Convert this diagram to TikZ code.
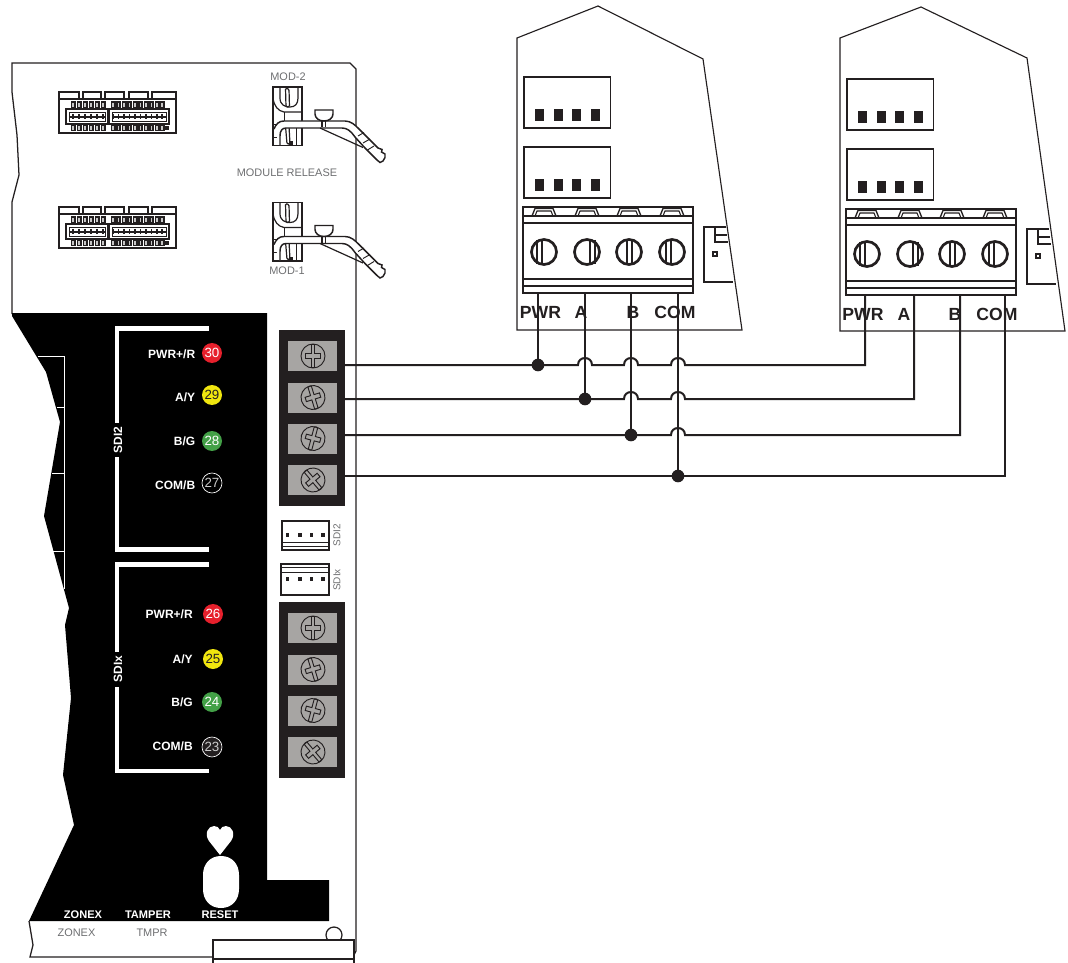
\documentclass[tikz,border=0pt]{standalone}
\usepackage{fontspec}
\setmainfont{Liberation Sans}
\definecolor{ink}{HTML}{231F20}
\definecolor{labgray}{HTML}{6D6E70}
\definecolor{termgray}{HTML}{A7A5A3}
\definecolor{ledred}{HTML}{E6202C}
\definecolor{ledyellow}{HTML}{F0E60F}
\definecolor{ledgreen}{HTML}{43A047}
\newcommand{\fsize}[1]{\fontsize{#1}{#1}\selectfont}
\tikzset{
  thinline/.style={draw=ink,line width=0.7pt},
  boardline/.style={draw=ink,line width=0.95pt},
  wire/.style={draw=ink,line width=1.5pt},
  dotnode/.style={circle,fill=ink,inner sep=0pt,minimum size=9.5pt},
  graylab/.style={text=labgray,font=\fsize{8.2},inner sep=0pt},
  whitelab/.style={text=white,font=\fsize{9}\bfseries,inner sep=0pt,anchor=east},
  botlab/.style={text=white,font=\fsize{8.3}\bfseries,inner sep=0pt},
  pinlab/.style={text=ink,font=\fsize{13.2}\bfseries,inner sep=0pt},
  led/.style={circle,minimum size=15pt,inner sep=0pt,font=\fsize{10}},
  bracket/.style={draw=white,line width=3.6pt},
}
\newcommand{\msock}[1]{% socket, y offset #1
 \begin{scope}[shift={(0,#1)}]
  \draw[thinline,line width=.9pt] (59,99) -- (59,92) -- (79,92) -- (79,99) (83,99) -- (83,92) -- (101,92) -- (101,99)
    (105,99) -- (105,92) -- (124,92) -- (124,99) (129,99) -- (129,92) -- (148,92) -- (148,99) (152,99) -- (152,92) -- (176,92) -- (176,99);
  \draw[thinline,line width=1.1pt] (59,99) rectangle (176,133);
  \foreach \px in {73,79,85,91,97,103,113,118.5,124,129.5,135,140.5,146,151.5,157,162}{
    \fill[ink] (\px-2.5,101.5) rectangle (\px+2.5,108.5);
    \fill[white!75!ink] (\px-.6,103) rectangle (\px+.6,107);
    \fill[ink] (\px-2.5,124.5) rectangle (\px+2.5,131);
    \fill[white!75!ink] (\px-.6,126) rectangle (\px+.6,130);}
  \draw[thinline,line width=1.3pt] (66,109) rectangle (108,124) (109,109) rectangle (169,124);
  \draw[thinline,line width=.6pt] (69,112) rectangle (105.5,121) (112,112) rectangle (166.5,121);
  \draw[ink,line width=1pt] (69,117) -- (105,117) (112,117) -- (166,117);
  \foreach \px in {73,79,85,91,97,103,113,118.5,124,129.5,135,140.5,146,151.5,157,162}
    \draw[ink,line width=.9pt] (\px,114) -- (\px,119.5);
  \fill[ink] (164.5,126) rectangle (169,130.5);
 \end{scope}}
\newcommand{\mclip}[1]{% module release, y offset #1
 \begin{scope}[shift={(0,#1)}]
  \draw[thinline,line width=1.1pt] (273,87) rectangle (302,145.5);
  \draw[thinline,line width=.9pt] (280,87) -- (280,98) .. controls (280,105) and (285,107) .. (290,107) .. controls (295,107) and (298,104) .. (298,98) -- (298,87);
  \draw[thinline,line width=.9pt] (273,98) .. controls (274,106) and (278,111) .. (284,112) -- (302,112);
  \draw[thinline] (284,112) -- (284,121);
  \draw[thinline,line width=.9pt,rounded corners=1pt] (285.5,88) -- (289,89) -- (289.5,107) -- (286,107) -- cycle;
  \draw[thinline,line width=.9pt,rounded corners=1pt] (285.5,126) -- (289,126) -- (290,144) -- (287,144) -- cycle;
  \draw[thinline] (296,128) -- (296,145.5) (273,137) -- (280,137) (273,124) -- (277,124);
  \fill[ink] (289,141.5) rectangle (292.5,145);
  \draw[thinline,line width=1.1pt,fill=white] (274,129) .. controls (276,124) and (279,121) .. (284,121) -- (345,121)
      .. controls (351,121) and (355,125) .. (359,129) -- (372,142) -- (378,148) -- (382,149.5) -- (381.5,152) -- (385,154) -- (385,157.5) -- (383,161) -- (380,162.5)
      -- (377,160) -- (365,148) -- (355,137) .. controls (351,131) and (347,128) .. (342,128) -- (286,128)
      .. controls (282,128) and (280,131) .. (280,136) -- (280,145.5);
  \draw[thinline,line width=.9pt] (320,128) -- (363,147.5);
  \draw[thinline] (358,136) -- (364,132.5) (363,143) -- (370,139) (367.5,150) -- (374,146);
  \draw[thinline,fill=white,line width=1.1pt] (315,110) -- (333,110) -- (333,114) .. controls (333,118) and (329,121) .. (324,121) .. controls (319,121) and (315,118) .. (315,114) -- cycle;
  \draw[thinline,line width=1pt] (322,121) -- (322,127.5) (325.5,121) -- (325.5,127.5);
 \end{scope}}
\newcommand{\mscrew}[3]{% x,y,angle
 \begin{scope}[shift={(#1,#2)},rotate=#3]
  \draw[ink,line width=.7pt] (0,0) circle[radius=12];
  \draw[ink,line width=.7pt,fill=termgray] (-1.8,-11.5) -- (1.8,-11.5) -- (1.8,-2.5) -- (7.5,-2.5) -- (7.5,2) -- (1.8,2) -- (1.8,11.5) -- (-1.8,11.5) -- (-1.8,2) -- (-7.5,2) -- (-7.5,-2.5) -- (-1.8,-2.5) -- cycle;
 \end{scope}}
\newcommand{\mblock}[2]{% terminal strip, y offset #2, name prefix #1
 \begin{scope}[shift={(0,#2)}]
  \node[fill=ink,minimum width=49.5pt,minimum height=132pt,inner sep=0pt] (#1) at (312,418) {};
  \foreach \gy/\ga in {356/0,397.5/17,438.5/-15,480/40}{
    \fill[termgray] (288,\gy-15) rectangle (337,\gy+15);
    \mscrew{313}{\gy}{\ga}
  }
 \end{scope}}
\newcommand{\mmodule}[3]{% dx, dy, name
 \begin{scope}[shift={(#1,#2)}]
  \foreach \ry in {77,147}{
    \draw[ink,line width=1.2pt] (524,\ry) rectangle (610.5,\ry+51);
    \foreach \qx in {539,558,576,595} \fill[ink] (\qx-4.5,\ry+32.5) rectangle (\qx+4.5,\ry+44.5);
  }
  \draw[ink,line width=1.1pt] (523,207) rectangle (693,293);
  \draw[ink,line width=.8pt] (523,216) -- (693,216) (523,286) -- (693,286);
  \draw[ink,line width=.8pt] (523,223) -- (693,223);
  \draw[ink,line width=1.2pt] (523,279) -- (693,279);
  \foreach \qx/\lx in {544/-5,587/5,629/0,672/-4}{
    \draw[ink,line width=1pt] (\qx-12,216) -- (\qx-9,208.5) -- (\qx+9,208.5) -- (\qx+12,216);
    \draw[ink,line width=.8pt] (\qx-9,216) -- (\qx-7,211) -- (\qx+7,211) -- (\qx+9,216);
    \draw[ink,line width=2pt] (\qx,252) circle[radius=12.5];
    \draw[ink,line width=.8pt] (\qx+\lx-2,240) -- (\qx+\lx-2,264) (\qx+\lx+3,240) -- (\qx+\lx+3,264);
  }
  \draw[ink,line width=1pt] (726,227) -- (704,227) -- (704,282) -- (733,282);
  \draw[ink,line width=.8pt] (715,227) -- (715,242) -- (727.5,242) (715,235) -- (726.5,235);
  \fill[ink] (712,251.5) rectangle (718,257.5);
  \fill[white] (714,253.5) rectangle (716,255.5);
 \end{scope}}
\newcommand{\hop}{.. controls +(0,-9.3) and +(0,-9.3) .. +(14,0)}
\begin{document}
\begin{tikzpicture}[x=0.75pt,y=-0.75pt]
\clip (0,0) rectangle (1068,963);
% board outline
\draw[boardline] (12,314) -- (12,202) -- (19,175) -- (17,135) -- (12,92) -- (12,63) -- (350,63) -- (356,69) -- (356,951) -- (354,955);
\draw[boardline] (29,921) -- (33,945) -- (30,957) -- (213,957);
% black area
\fill[black] (12,313) -- (267,313) -- (267,880) -- (329,880) -- (329,921) -- (29,921) -- (74,825) -- (63,775) -- (71,698) -- (65,625) -- (69,608) -- (44,516) -- (60,422) -- (46,372) -- (12,316) -- cycle;
\draw[white,line width=.7pt] (38,356.5) -- (64,356.5) -- (64,589) (57,407) -- (64,407) (52,473.5) -- (64,473.5) (45,551) -- (64,551);
% SDI brackets
\draw[bracket] (209,328.5) -- (117,328.5) -- (117,423);
\draw[bracket] (117,457) -- (117,549.5) -- (209,549.5);
\draw[bracket] (209,564.5) -- (117,564.5) -- (117,652);
\draw[bracket] (117,687) -- (117,771) -- (209,771);
\node[rotate=90,text=white,font=\fsize{9}\bfseries,inner sep=0pt] (sdi2lab) at (118,440) {SDI2};
\node[rotate=90,text=white,font=\fsize{9}\bfseries,inner sep=0pt] (sdixlab) at (118,669) {SDIx};
% LED labels
\node[whitelab] (l30) at (195.5,354) {PWR+/R};
\node[whitelab] (l29) at (195.5,397) {A/Y};
\node[whitelab] (l28) at (195.5,441) {B/G};
\node[whitelab] (l27) at (195.5,485) {COM/B};
\node[whitelab] (l26) at (193,614) {PWR+/R};
\node[whitelab] (l25) at (193,659) {A/Y};
\node[whitelab] (l24) at (193,702) {B/G};
\node[whitelab] (l23) at (193,746) {COM/B};
\node[led,fill=ledred,text=white] (n30) at (212,353) {30};
\node[led,fill=ledyellow,text=ink] (n29) at (212,395) {29};
\node[led,fill=ledgreen,text=white] (n28) at (212,441) {28};
\node[led,fill=black,draw=white,line width=.5pt,text=white!80!black] (n27) at (212,483) {27};
\node[led,fill=ledred,text=white] (n26) at (213,614) {26};
\node[led,fill=ledyellow,text=ink] (n25) at (213,659) {25};
\node[led,fill=ledgreen,text=white] (n24) at (212,702) {24};
\node[led,fill=ink,draw=white,line width=.5pt,text=white!80!black] (n23) at (212,747) {23};
% reset
\fill[white] (220,855) -- (209,841) .. controls (204,834) and (208,826) .. (214,826) .. controls (217,826) and (219,827.5) .. (220,830)
  .. controls (221,827.5) and (223,826) .. (226,826) .. controls (232,826) and (236,834) .. (231,841) -- cycle;
\fill[white] (203,875) .. controls (203,864) and (210,856) .. (221,856) .. controls (232,856) and (239,864) .. (239,875) -- (239,889)
  .. controls (239,900) and (232,908) .. (221,908) .. controls (210,908) and (203,900) .. (203,889) -- cycle;
\node[botlab] (lzonex) at (83,914.5) {ZONEX};
\node[botlab] (ltamper) at (148,914.5) {TAMPER};
\node[botlab] (lreset) at (220,914.5) {RESET};
\node[graylab] (gzonex) at (76.5,933) {ZONEX};
\node[graylab] (gtmpr) at (152,933) {TMPR};
% bottom-right bits
\draw[boardline] (334,935) circle[radius=8];
\draw[boardline,fill=white] (213,964) -- (213,940) -- (354,940) -- (354,964);
\draw[boardline] (213,959) -- (354,959);
% sockets and release clips
\msock{0}
\msock{115}
\mclip{0}
\mclip{115.5}
\node[graylab] (lmod2) at (288,77) {MOD-2};
\node[graylab] (lrel) at (287,173) {MODULE RELEASE};
\node[graylab] (lmod1) at (287,271) {MOD-1};
% terminal blocks
\mblock{TA}{0}
\mblock{TB}{272}
% small connectors
\draw[ink,line width=.9pt] (282,521) rectangle (329,550);
\draw[ink,line width=.7pt] (282,542) -- (329,542) (282,546.5) -- (329,546.5);
\draw[ink,line width=.9pt] (281,564) rectangle (329,595);
\draw[ink,line width=.7pt] (281,567.5) -- (329,567.5) (281,572) -- (329,572);
\foreach \qx in {287.5,300,311.5,323}{
  \fill[ink] (\qx-1.9,533) rectangle (\qx+1.9,537);
  \fill[ink] (\qx-1.9,577) rectangle (\qx+1.9,581);}
\node[graylab,rotate=90,font=\fsize{7.5}] (lsdi2) at (337,535) {SDI2};
\node[graylab,rotate=90,font=\fsize{7.5}] (lsdix) at (337,580) {SDIx};
% modules
\draw[ink,line width=.85pt] (517,38) -- (598,6) -- (703,59) -- (742,330) -- (517,330) -- cycle;
\draw[ink,line width=.85pt] (840,38) -- (921,7) -- (1027,58) -- (1065,331) -- (840,331) -- cycle;
\mmodule{0}{0}{MA}
\mmodule{323}{2}{MB}
\node[pinlab] (pwr1) at (540.5,312) {PWR};
\node[pinlab] (a1) at (581,312) {A};
\node[pinlab] (b1) at (633,312) {B};
\node[pinlab] (com1) at (675,312) {COM};
\node[pinlab] (pwr2) at (863,314) {PWR};
\node[pinlab] (a2) at (904,314) {A};
\node[pinlab] (b2) at (955,314) {B};
\node[pinlab] (com2) at (997,314) {COM};
% wiring
\coordinate (s1) at (345,365); \coordinate (s2) at (345,399);
\coordinate (s3) at (345,435); \coordinate (s4) at (345,476);
\coordinate (m1a) at (538,294); \coordinate (m1b) at (585,294);
\coordinate (m1c) at (631,294); \coordinate (m1d) at (678,294);
\coordinate (m2a) at (865,296); \coordinate (m2b) at (914,296);
\coordinate (m2c) at (960,296); \coordinate (m2d) at (1005,296);
\coordinate (c1) at (865,365); \coordinate (c2) at (914,399);
\coordinate (c3) at (960,435); \coordinate (c4) at (1005,476);
\node[dotnode] (d1) at (538,365) {};
\node[dotnode] (d2) at (585,399) {};
\node[dotnode] (d3) at (631,435) {};
\node[dotnode] (d4) at (678,476) {};
\coordinate (h1b) at (578,365); \coordinate (h1c) at (624,365); \coordinate (h1d) at (671,365);
\coordinate (h2c) at (624,399); \coordinate (h2d) at (671,399);
\coordinate (h3d) at (671,435);
\draw[wire] (m1a) -- (d1.center);
\draw[wire] (m1b) -- (d2.center);
\draw[wire] (m1c) -- (d3.center);
\draw[wire] (m1d) -- (d4.center);
\draw[wire] (s1) -- (d1.center) -- (h1b) \hop -- (h1c) \hop -- (h1d) \hop -- (c1) -- (m2a);
\draw[wire] (s2) -- (d2.center) -- (h2c) \hop -- (h2d) \hop -- (c2) -- (m2b);
\draw[wire] (s3) -- (d3.center) -- (h3d) \hop -- (c3) -- (m2c);
\draw[wire] (s4) -- (d4.center) -- (c4) -- (m2d);
\end{tikzpicture}
\end{document}
